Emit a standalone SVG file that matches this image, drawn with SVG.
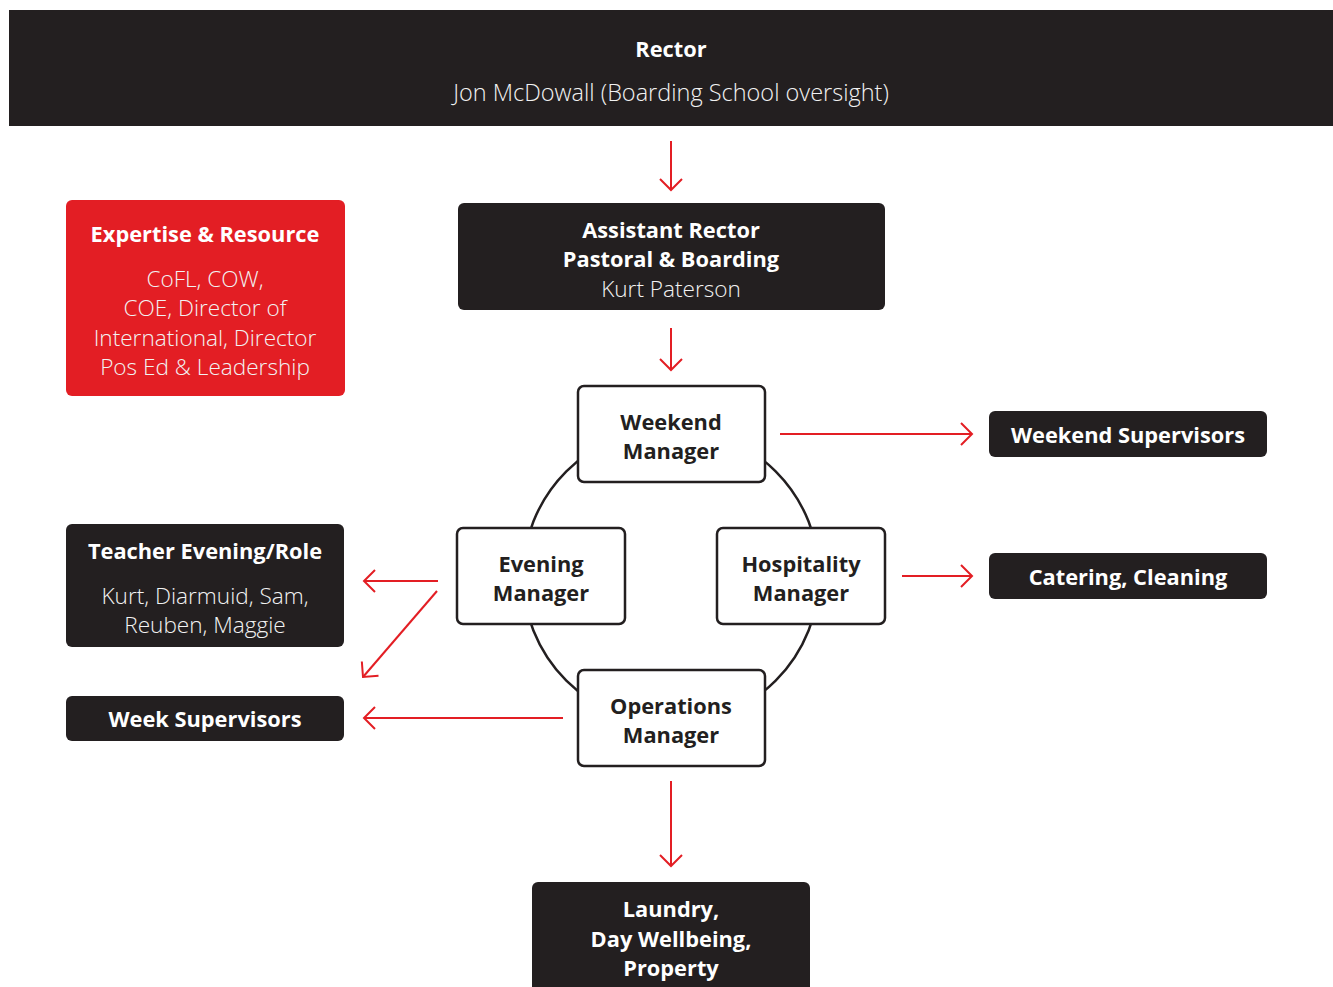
<svg xmlns="http://www.w3.org/2000/svg" width="1333" height="987" viewBox="0 0 1333 987">
<style>
text{font-family:"Open Sans","Liberation Sans",sans-serif;text-anchor:middle;dominant-baseline:central}
.dark{fill:#231f20}
.red{fill:#e31e24}
.wbox{fill:#fff;stroke:#231f20;stroke-width:2.5}
.b{font-weight:700;font-size:21.8px;fill:#fff}
.l{font-weight:300;font-size:22.6px;fill:#f2f2f2}
.lr{font-weight:300;font-size:23.5px;fill:#f2f2f2}
.bd{font-weight:700;font-size:21.8px;fill:#231f20}
.conn{stroke:#e31e24;stroke-width:2;fill:none}
.ring{stroke:#231f20;stroke-width:2.5;fill:none}
</style>
<defs>
<marker id="ah" markerUnits="userSpaceOnUse" viewBox="-13 -13 15 26" markerWidth="15" markerHeight="26" refX="0" refY="0" orient="auto">
<path d="M-11,-11 L0,0 L-11,11" fill="none" stroke="#e31e24" stroke-width="2"/>
</marker>
</defs>
<rect width="1333" height="987" fill="#fff"/>
<g id="ring"><circle class="ring" cx="671" cy="576" r="148"/></g>
<g id="rector">
<rect class="dark" x="9" y="10" width="1324" height="116"/>
<text class="b" x="671" y="48">Rector</text>
<text class="lr" x="671" y="92">Jon McDowall (Boarding School oversight)</text>
</g>
<g id="assistant-rector">
<rect class="dark" x="458" y="203" width="427" height="107" rx="6"/>
<text class="b" x="671" y="229">Assistant Rector</text>
<text class="b" x="671" y="258">Pastoral &amp; Boarding</text>
<text class="l" x="671" y="288">Kurt Paterson</text>
</g>
<g id="expertise">
<rect class="red" x="66" y="200" width="279" height="196" rx="6"/>
<text class="b" x="205" y="233">Expertise &amp; Resource</text>
<text class="l" x="205" y="278">CoFL, COW,</text>
<text class="l" x="205" y="307">COE, Director of</text>
<text class="l" x="205" y="337">International, Director</text>
<text class="l" x="205" y="366">Pos Ed &amp; Leadership</text>
</g>
<g id="weekend-manager">
<rect class="wbox" x="578" y="386" width="187" height="96" rx="6"/>
<text class="bd" x="671" y="421">Weekend</text>
<text class="bd" x="671" y="450">Manager</text>
</g>
<g id="evening-manager">
<rect class="wbox" x="457" y="528" width="168" height="96" rx="6"/>
<text class="bd" x="541" y="563">Evening</text>
<text class="bd" x="541" y="592">Manager</text>
</g>
<g id="hospitality-manager">
<rect class="wbox" x="717" y="528" width="168" height="96" rx="6"/>
<text class="bd" x="801" y="563">Hospitality</text>
<text class="bd" x="801" y="592">Manager</text>
</g>
<g id="operations-manager">
<rect class="wbox" x="578" y="670" width="187" height="96" rx="6"/>
<text class="bd" x="671" y="705">Operations</text>
<text class="bd" x="671" y="734">Manager</text>
</g>
<g id="weekend-supervisors">
<rect class="dark" x="989" y="411" width="278" height="46" rx="6"/>
<text class="b" x="1128" y="434">Weekend Supervisors</text>
</g>
<g id="catering">
<rect class="dark" x="989" y="553" width="278" height="46" rx="6"/>
<text class="b" x="1128" y="576">Catering, Cleaning</text>
</g>
<g id="teacher-evening">
<rect class="dark" x="66" y="524" width="278" height="123" rx="6"/>
<text class="b" x="205" y="550">Teacher Evening/Role</text>
<text class="l" x="205" y="595">Kurt, Diarmuid, Sam,</text>
<text class="l" x="205" y="624">Reuben, Maggie</text>
</g>
<g id="week-supervisors">
<rect class="dark" x="66" y="696" width="278" height="45" rx="6"/>
<text class="b" x="205" y="718">Week Supervisors</text>
</g>
<g id="laundry">
<rect class="dark" x="532" y="882" width="278" height="120" rx="6"/>
<text class="b" x="671" y="908">Laundry,</text>
<text class="b" x="671" y="938">Day Wellbeing,</text>
<text class="b" x="671" y="967">Property</text>
</g>
<g id="connectors">
<line class="conn" x1="671" y1="141" x2="671" y2="190" marker-end="url(#ah)"/>
<line class="conn" x1="671" y1="328" x2="671" y2="370" marker-end="url(#ah)"/>
<line class="conn" x1="780" y1="434" x2="972" y2="434" marker-end="url(#ah)"/>
<line class="conn" x1="902" y1="576" x2="972" y2="576" marker-end="url(#ah)"/>
<line class="conn" x1="438" y1="581" x2="364" y2="581" marker-end="url(#ah)"/>
<line class="conn" x1="437" y1="591" x2="363" y2="677" marker-end="url(#ah)"/>
<line class="conn" x1="563" y1="718" x2="364" y2="718" marker-end="url(#ah)"/>
<line class="conn" x1="671" y1="781" x2="671" y2="866" marker-end="url(#ah)"/>
</g>
</svg>
